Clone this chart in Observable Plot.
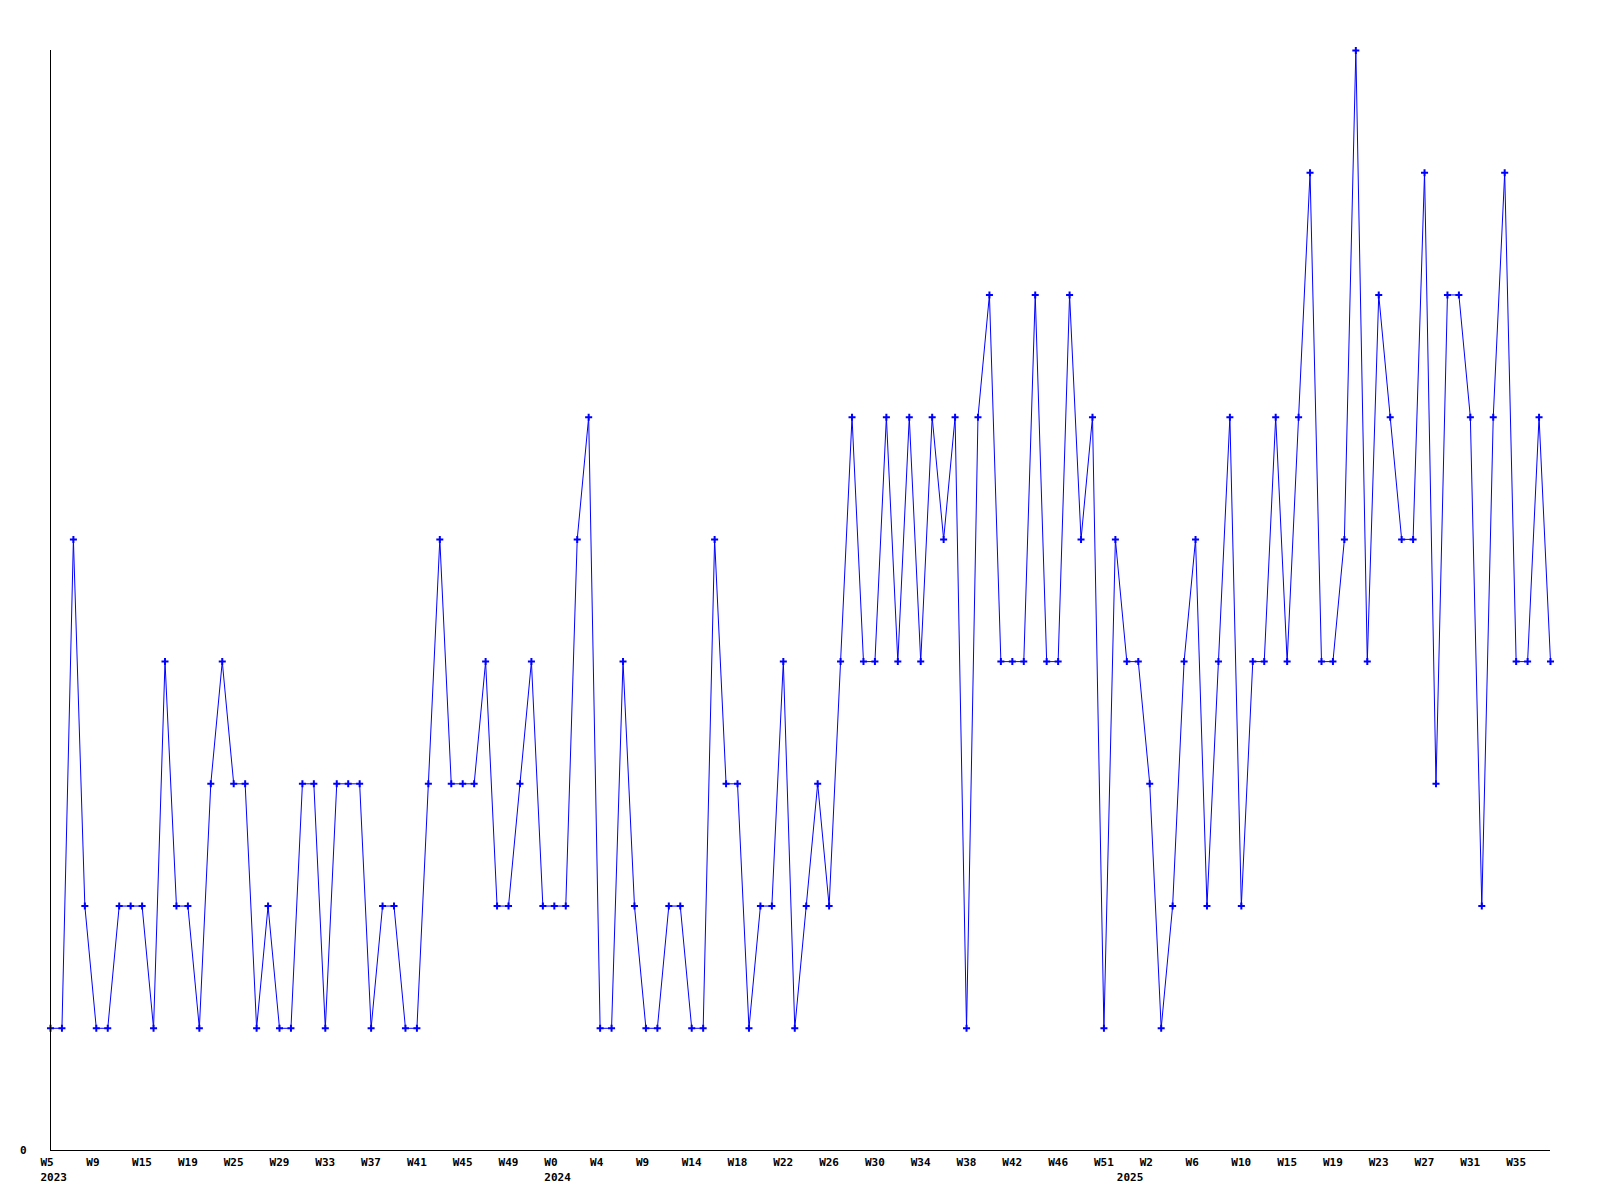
<!DOCTYPE html>
<html>
<head>
<meta charset="utf-8">
<script src="https://cdn.jsdelivr.net/npm/d3@7"></script>
<script src="https://cdn.jsdelivr.net/npm/@observablehq/plot@0.6"></script>
<style>
  html, body { margin: 0; padding: 0; background: #fff; }
  #chart { width: 1600px; height: 1200px; }
</style>
</head>
<body>
<div id="chart"></div>
<script>
// Year of each weekly bucket (weeks with no activity are absent)
const years = [
  2023,2023,2023,2023,2023,2023,2023,2023,2023,2023,2023,2023,2023,2023,2023,2023,2023,2023,2023,2023,
  2023,2023,2023,2023,2023,2023,2023,2023,2023,2023,2023,2023,2023,2023,2023,2023,2023,2023,2023,2023,
  2023,2023,2023,2023,
  2024,2024,2024,2024,2024,2024,2024,2024,2024,2024,2024,2024,2024,2024,2024,2024,2024,2024,2024,2024,
  2024,2024,2024,2024,2024,2024,2024,2024,2024,2024,2024,2024,2024,2024,2024,2024,2024,2024,2024,2024,
  2024,2024,2024,2024,2024,2024,2024,2024,2024,2024,
  2025,2025,2025,2025,2025,2025,2025,2025,2025,2025,2025,2025,2025,2025,2025,2025,2025,2025,2025,2025,
  2025,2025,2025,2025,2025,2025,2025,2025,2025,2025,2025,2025,2025,2025,2025,2025,2025,2025
];
// Week number of each bucket
const weekNums = [
  5,6,7,8,9,10,12,13,15,16,17,18,19,20,22,23,25,26,27,28,
  29,30,31,32,33,34,35,36,37,38,39,40,41,42,43,44,45,46,47,48,
  49,50,51,52,
  0,1,2,3,4,5,6,8,9,10,11,13,14,15,16,17,18,19,20,21,
  22,23,24,25,26,27,28,29,30,31,32,33,34,35,36,37,38,39,40,41,
  42,43,44,45,46,47,48,50,51,52,
  0,1,2,3,4,5,6,7,8,9,10,11,12,14,15,16,17,18,19,20,
  21,22,23,24,25,26,27,28,29,30,31,32,33,34,35,36,37,38
];
// Count per week
const counts = [
  1,1,5,2,1,1,2,2,2,1,4,2,2,1,3,4,3,3,1,2,
  1,1,3,3,1,3,3,3,1,2,2,1,1,3,5,3,3,3,4,2,
  2,3,4,2,2,2,5,6,1,1,4,2,1,1,2,2,1,1,5,3,
  3,1,2,2,4,1,2,3,2,4,6,4,4,6,4,6,4,6,5,6,
  1,6,7,4,4,4,7,4,4,7,5,6,1,5,4,4,3,1,2,4,
  5,2,4,6,2,4,4,6,4,6,8,4,4,5,9,4,7,6,5,5,
  8,3,7,7,6,2,6,8,4,4,6,4
];
const tickEvery = 4;

const data = counts.map((c, i) => ({i, year: years[i], week: weekNums[i], count: c}));
const tickIdx = data.filter(d => d.i % tickEvery === 0).map(d => d.i);
const yearStarts = data.filter((d, i) => i === 0 || years[i] !== years[i - 1]);

const chart = Plot.plot({
  width: 1600,
  height: 1200,
  marginTop: 50,
  marginBottom: 50,
  marginLeft: 50,
  marginRight: 50,
  style: {fontFamily: "'DejaVu Sans Mono', monospace", fontSize: "11px", fontWeight: "bold", color: "#000", background: "#fff"},
  x: {domain: [0, counts.length - 1], axis: null},
  y: {domain: [0, d3.max(counts)], axis: null},
  marks: [
    Plot.axisX({ticks: tickIdx, tickFormat: i => "W" + weekNums[i], tickSize: 0, tickPadding: 8, textAnchor: "start", dx: -10, label: null, fill: "#000"}),
    Plot.axisY({ticks: [0], tickFormat: d => String(d), tickSize: 0, tickPadding: 24, label: null, fill: "#000"}),
    Plot.text(yearStarts, {x: "i", text: d => String(d.year), frameAnchor: "bottom", textAnchor: "start", lineAnchor: "middle", dx: -10, dy: 27, fill: "#000"}),
    Plot.lineY(data, {x: "i", y: "count", stroke: "#0000ff", strokeWidth: 1}),
    Plot.dot(data, {x: "i", y: "count", symbol: "plus", r: 2.4, stroke: "#0000ff", strokeWidth: 2}),
    Plot.ruleX([0], {stroke: "#000", strokeWidth: 1}),
    Plot.ruleY([0], {stroke: "#000", strokeWidth: 1})
  ]
});
document.getElementById("chart").appendChild(chart);
</script>
</body>
</html>
